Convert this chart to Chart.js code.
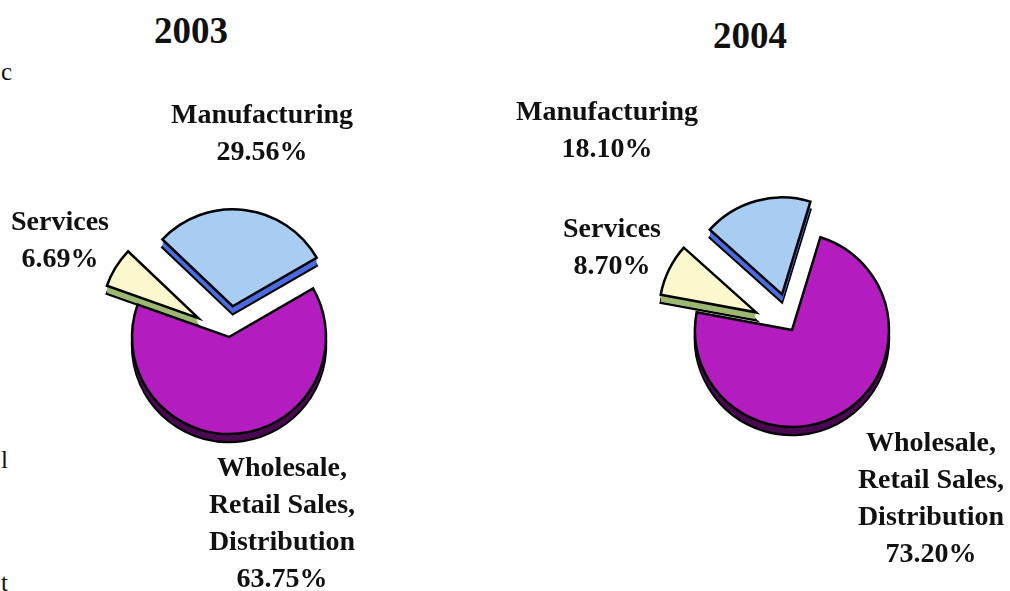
<!DOCTYPE html>
<html>
<head>
<meta charset="utf-8">
<script src="https://cdn.jsdelivr.net/npm/chart.js@4.4.1/dist/chart.umd.min.js"></script>
<style>
  html, body { margin: 0; padding: 0; background: #fff; }
  #page { position: relative; width: 1010px; height: 591px; overflow: hidden; background: #fff;
          font-family: "Liberation Serif", "Times New Roman", serif; color: #111; }
  .lbl { position: absolute; transform: translateX(-50%); text-align: center; font-weight: bold;
         font-size: 28px; line-height: 37px; white-space: nowrap; }
  .yr { position: absolute; transform: translateX(-50%); font-weight: bold; font-size: 37px; line-height: 37px; }
  .edge { position: absolute; left: 1px; font-size: 25px; line-height: 24px; }
  canvas { position: absolute; }
</style>
</head>
<body>
<div id="page">
  <div class="edge" style="top:60px">c</div>
  <div class="edge" style="top:448px">l</div>
  <div class="edge" style="top:571px">t</div>
</div>
<script>
// Sector shares by year (percent of total)
const sectors = ['Wholesale, Retail Sales, Distribution', 'Services', 'Manufacturing'];
const sectorLines = [['Wholesale,', 'Retail Sales,', 'Distribution'], ['Services'], ['Manufacturing']];
const years = ['2003', '2004'];
const share2003 = [63.75, 6.69, 29.56];
const share2004 = [73.20, 8.70, 18.10];

// Slice colours: top face and extruded side
const topColors = ['#B31CBE', '#FCF8CD', '#A8CCF2'];
const sideColors = ['#4A0A52', '#9CB872', '#4A6CE0'];

// Placement of each pie and its labels on the page
const layouts = [
  { values: share2003, center: [229, 337], rotation: 60, explode: [0, 36, 31],
    title: [191, 12], labels: [[282, 448], [60, 202], [262, 95]] },
  { values: share2004, center: [792, 330], rotation: 17, explode: [0, 40, 37],
    title: [750, 17], labels: [[931, 423], [612, 209], [607, 92]] }
];

const CANVAS = 340;
const page = document.getElementById('page');

function shiftOf(arc, dist) {
  const mid = (arc.startAngle + arc.endAngle) / 2;
  return { dx: Math.cos(mid) * dist, dy: Math.sin(mid) * dist };
}

// Pulls slices out from the centre and gives them a shallow extruded side
const pie3d = {
  id: 'pie3d',
  afterUpdate(chart, args, opts) {
    const meta = chart.getDatasetMeta(0);
    meta.data.forEach((arc, i) => {
      arc.draw = function (ctx, area) {
        const s = shiftOf(this, opts.explode[i]);
        ctx.save();
        ctx.translate(s.dx, s.dy);
        Chart.ArcElement.prototype.draw.call(this, ctx, area);
        ctx.restore();
      };
    });
  },
  beforeDatasetsDraw(chart, args, opts) {
    const ctx = chart.ctx;
    const meta = chart.getDatasetMeta(0);
    meta.data.forEach((arc, i) => {
      const s = shiftOf(arc, opts.explode[i]);
      const cx = arc.x + s.dx, cy = arc.y + s.dy;
      ctx.save();
      ctx.lineJoin = 'miter';
      ctx.lineWidth = 2.5;
      ctx.strokeStyle = '#000';
      ctx.fillStyle = opts.sideColors[i];
      for (let k = opts.depth; k >= 1; k--) {
        ctx.beginPath();
        ctx.moveTo(cx, cy + k);
        ctx.arc(cx, cy + k, arc.outerRadius, arc.startAngle, arc.endAngle);
        ctx.closePath();
        ctx.fill();
        if (k === opts.depth) ctx.stroke();
      }
      ctx.restore();
    });
  }
};

function addText(cls, x, y, lines) {
  const d = document.createElement('div');
  d.className = cls;
  d.style.left = x + 'px';
  d.style.top = y + 'px';
  d.innerHTML = lines.join('<br>');
  page.appendChild(d);
}

layouts.forEach((L, n) => {
  const cv = document.createElement('canvas');
  cv.width = CANVAS; cv.height = CANVAS;
  cv.style.left = (L.center[0] - CANVAS / 2) + 'px';
  cv.style.top = (L.center[1] - CANVAS / 2) + 'px';
  page.appendChild(cv);

  new Chart(cv, {
    type: 'pie',
    data: {
      labels: sectors,
      datasets: [{
        data: L.values,
        backgroundColor: topColors,
        borderColor: '#000',
        borderWidth: 2.5,
        borderJoinStyle: 'miter',
        hoverOffset: 0,
        radius: 97,
        rotation: L.rotation
      }]
    },
    options: {
      responsive: false,
      animation: false,
      events: [],
      layout: { padding: 0 },
      plugins: {
        legend: { display: false },
        tooltip: { enabled: false },
        pie3d: { explode: L.explode, sideColors: sideColors, depth: 8 }
      }
    },
    plugins: [pie3d]
  });

  addText('yr', L.title[0], L.title[1], [years[n]]);
  L.values.forEach((v, i) => {
    addText('lbl', L.labels[i][0], L.labels[i][1], sectorLines[i].concat([v.toFixed(2) + '%']));
  });
});
</script>
</body>
</html>
